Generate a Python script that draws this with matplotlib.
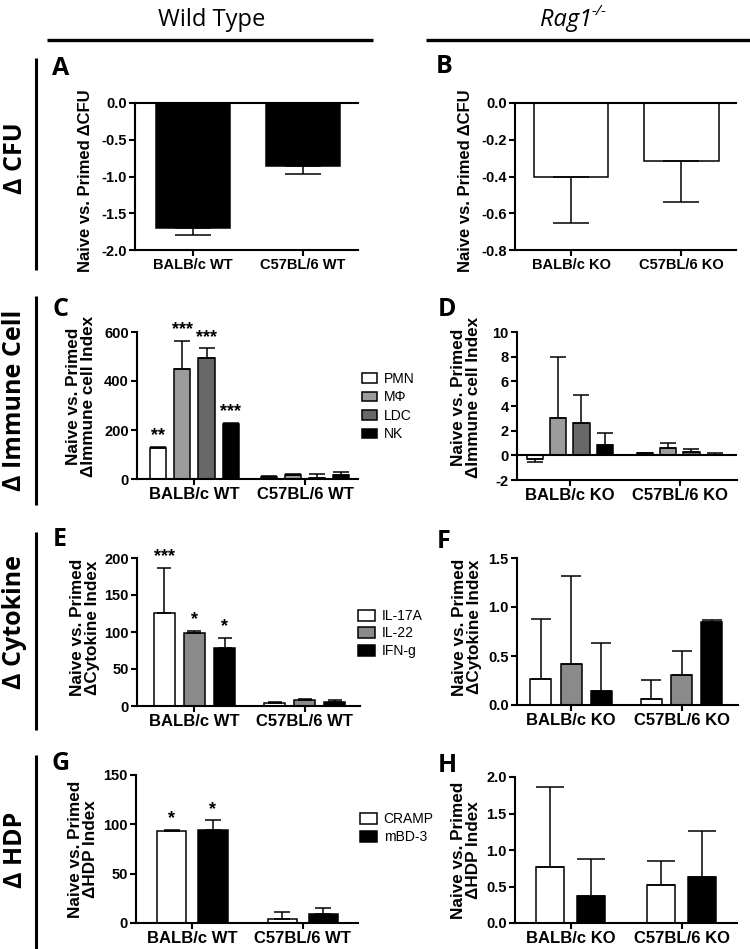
import numpy as np
import matplotlib
matplotlib.use('Agg')
import matplotlib.pyplot as plt

W, H = 750, 949

groups_wt = ['BALB/c WT', 'C57BL/6 WT']
groups_ko = ['BALB/c KO', 'C57BL/6 KO']

# A / B : delta CFU
cfu_wt = [-1.70, -0.855]
cfu_wt_err = [0.10, 0.11]
cfu_ko = [-0.40, -0.315]
cfu_ko_err = [0.255, 0.225]

# C / D : immune cells  (one row per cell type, one column per strain)
cells = ['PMN', 'MΦ', 'LDC', 'NK']
cell_colors = ['white', '#9c9c9c', '#686868', 'black']
cell_wt = [[128, 8], [448, 17], [495, 5], [224, 17]]
cell_wt_err = [[2, 6], [116, 2], [38, 15], [5, 13]]
cell_wt_stars = ['**', '***', '***', '***']
cell_ko = [[-0.30, 0.15], [3.06, 0.62], [2.62, 0.30], [0.81, 0.03]]
cell_ko_err = [[0.27, 0.03], [4.9, 0.38], [2.3, 0.2], [1.0, 0.15]]

# E / F : cytokines
cytokines = ['IL-17A', 'IL-22', 'IFN-g']
cyto_colors = ['white', '#8a8a8a', 'black']
cyto_wt = [[126, 4], [99, 8], [78, 5]]
cyto_wt_err = [[61, 2], [3, 1], [14, 3]]
cyto_wt_stars = ['***', '*', '*']
cyto_ko = [[0.27, 0.064], [0.414, 0.305], [0.143, 0.842]]
cyto_ko_err = [[0.605, 0.19], [0.903, 0.245], [0.492, 0.023]]

# G / H : host defence peptides
hdps = ['CRAMP', 'mBD-3']
hdp_colors = ['white', 'black']
hdp_wt = [[93, 3.7], [94, 9.5]]
hdp_wt_err = [[1, 7.3], [10, 5.5]]
hdp_wt_stars = ['*', '*']
hdp_ko = [[0.767, 0.525], [0.374, 0.63]]
hdp_ko_err = [[1.096, 0.32], [0.506, 0.63]]

plt.rcParams['font.family'] = ['Liberation Sans', 'DejaVu Sans']
plt.rcParams['font.weight'] = 'bold'
plt.rcParams['axes.labelweight'] = 'bold'
plt.rcParams['axes.unicode_minus'] = False

fig = plt.figure(figsize=(W / 100, H / 100), dpi=100)

# background axes in pixel coords for headers / row labels
bg = fig.add_axes([0, 0, 1, 1])
bg.set_xlim(0, W)
bg.set_ylim(H, 0)
bg.axis('off')

cal = ['Open Sans', 'DejaVu Sans']
bg.text(212, 20, 'Wild Type', ha='center', va='center', fontsize=17, family=cal, weight='normal')
rag = bg.text(592, 20, 'Rag1', ha='right', va='center', fontsize=17, family=cal, weight='normal', style='italic')
bg.annotate('-/-', xy=(1.0, 0.85), xycoords=rag, ha='left', va='center', fontsize=11,
            family=cal, weight='normal', style='italic')
bg.plot([47, 373], [40, 40], color='black', lw=2.4, solid_capstyle='butt')
bg.plot([426, 750], [40, 40], color='black', lw=2.4, solid_capstyle='butt')

rows = [('Δ CFU', 58, 270, 158), ('Δ Immune Cell', 296, 505, 400),
        ('Δ Cytokine', 532, 730, 622), ('Δ HDP', 755, 949, 850)]
for txt, y0, y1, yc in rows:
    bg.plot([36, 36], [y0, y1], color='black', lw=2.2, solid_capstyle='butt')
    bg.text(15, yc, txt, rotation=90, ha='center', va='center', fontsize=18, family=cal, weight='bold')

letters = [('A', 61, 68), ('B', 444, 66), ('C', 60, 309), ('D', 447, 310),
           ('E', 60, 540), ('F', 444, 541), ('G', 61, 764), ('H', 447, 766)]
for t, x, y in letters:
    bg.text(x, y, t, ha='center', va='center', fontsize=18, family=cal, weight='bold')


def px_axes(x0, x1, y0, y1):
    return fig.add_axes([x0 / W, 1 - y1 / H, (x1 - x0) / W, (y1 - y0) / H])


def style(ax, ylim, yticks, fmt, groups, xlim, xfs, yfs):
    for s in ['top', 'right']:
        ax.spines[s].set_visible(False)
    for s in ['left', 'bottom']:
        ax.spines[s].set_linewidth(1.5)
    ax.set_xlim(xlim)
    ax.set_ylim(ylim)
    ax.set_yticks(yticks)
    ax.set_yticklabels([fmt.format(v) for v in yticks], fontsize=yfs, fontweight='bold')
    ax.set_xticks([0, 1])
    ax.set_xticklabels(groups, fontsize=xfs, fontweight='bold')
    ax.tick_params(direction='out', length=4, width=1.5, pad=2)
    ax.patch.set_alpha(0)


def ylabel(ax, text, fs, xpos, ypos=0.5):
    ax.set_ylabel(text, fontsize=fs, fontweight='bold', va='center', linespacing=1.0)
    ax.yaxis.set_label_coords(xpos, ypos)


def errs(vals, err):
    lo = [e if v < 0 else 0 for v, e in zip(vals, err)]
    hi = [0 if v < 0 else e for v, e in zip(vals, err)]
    return [lo, hi]


def grouped(ax, means, errors, colors, spacing, width, cap, stars=None):
    n = len(means)
    handles = []
    for i in range(n):
        x = np.arange(2) + (i - (n - 1) / 2) * spacing
        b = ax.bar(x, means[i], width, color=colors[i], edgecolor='black', linewidth=1.1, zorder=2)
        handles.append(b)
        ax.errorbar(x, means[i], yerr=errs(means[i], errors[i]), fmt='none', ecolor='black',
                    elinewidth=1.1, capsize=cap, capthick=1.1, zorder=3)
        if stars:
            ax.annotate(stars[i], (x[0], means[i][0] + errors[i][0]), xytext=(0, 2),
                        textcoords='offset points', ha='center', va='bottom',
                        fontsize=13, fontweight='bold')
    return handles


def legend(ax, handles, labels, x, y, hl, hh, ls):
    ax.legend(handles, labels, loc='upper left', bbox_to_anchor=(x / W, 1 - y / H),
              bbox_transform=fig.transFigure, frameon=False, prop={'weight': 'normal', 'size': 10},
              handlelength=hl, handleheight=hh, labelspacing=ls, handletextpad=0.5,
              borderpad=0, borderaxespad=0)


# A
ax = px_axes(135, 358, 103, 250)
ax.bar([0, 1], cfu_wt, 0.673, color='black', edgecolor='black', linewidth=1.1, zorder=2)
ax.errorbar([0, 1], cfu_wt, yerr=errs(cfu_wt, cfu_wt_err), fmt='none', ecolor='black',
            elinewidth=1.1, capsize=13, capthick=1.1, zorder=3)
style(ax, (-2, 0), [0, -0.5, -1.0, -1.5, -2.0], '{:.1f}', groups_wt, (-0.527, 1.5), 10.5, 10.5)
ax.axhline(0, color='black', lw=1.5, clip_on=False)
ylabel(ax, 'Naive vs. Primed ΔCFU', 12, -0.22, 0.47)

# B
ax = px_axes(515, 736, 103, 250)
ax.bar([0, 1], cfu_ko, 0.673, color='white', edgecolor='black', linewidth=1.1, zorder=2)
ax.errorbar([0, 1], cfu_ko, yerr=errs(cfu_ko, cfu_ko_err), fmt='none', ecolor='black',
            elinewidth=1.1, capsize=13, capthick=1.1, zorder=3)
style(ax, (-0.8, 0), [0, -0.2, -0.4, -0.6, -0.8], '{:.1f}', groups_ko, (-0.51, 1.495), 10.5, 10.5)
ax.axhline(0, color='black', lw=1.5, clip_on=False)
ylabel(ax, 'Naive vs. Primed ΔCFU', 12, -0.226, 0.47)

# C
ax = px_axes(137, 358, 332, 479)
h = grouped(ax, cell_wt, cell_wt_err, cell_colors, 0.218, 0.145, 5.5, cell_wt_stars)
style(ax, (0, 600), [0, 200, 400, 600], '{:d}', groups_wt, (-0.52, 1.48), 12, 10.5)
ylabel(ax, 'Naive vs. Primed\nΔImmune cell Index', 12.3, -0.253, 0.56)
legend(ax, h, cells, 362, 372, 1.1, 0.7, 0.32)

# D
ax = px_axes(517, 737, 332, 480)
grouped(ax, cell_ko, cell_ko_err, cell_colors, 0.212, 0.15, 6)
style(ax, (-2, 10), [-2, 0, 2, 4, 6, 8, 10], '{:d}', groups_ko, (-0.48, 1.52), 12, 10.5)
ax.axhline(0, color='black', lw=1.5)
ylabel(ax, 'Naive vs. Primed\nΔImmune cell Index', 12.3, -0.232, 0.56)

# E
ax = px_axes(137, 360, 558, 706)
h = grouped(ax, cyto_wt, cyto_wt_err, cyto_colors, 0.273, 0.19, 5, cyto_wt_stars)
style(ax, (0, 200), [0, 50, 100, 150, 200], '{:d}', groups_wt, (-0.52, 1.5), 12, 10.5)
ylabel(ax, 'Naive vs. Primed\nΔCytokine Index', 12.3, -0.233, 0.53)
legend(ax, h, cytokines, 358, 609, 1.2, 0.85, 0.25)

# F
ax = px_axes(517, 738, 558, 705)
grouped(ax, cyto_ko, cyto_ko_err, cyto_colors, 0.273, 0.19, 7)
style(ax, (0, 1.5), [0, 0.5, 1.0, 1.5], '{:.1f}', groups_ko, (-0.49, 1.51), 12, 10.5)
ylabel(ax, 'Naive vs. Primed\nΔCytokine Index', 12.3, -0.226, 0.53)

# G
ax = px_axes(136, 358, 775, 923)
h = grouped(ax, hdp_wt, hdp_wt_err, hdp_colors, 0.373, 0.264, 6, hdp_wt_stars)
style(ax, (0, 150), [0, 50, 100, 150], '{:d}', groups_wt, (-0.51, 1.5), 12, 10.5)
ylabel(ax, 'Naive vs. Primed\nΔHDP Index', 12.3, -0.239)
legend(ax, h, hdps, 360, 812, 1.2, 0.85, 0.3)

# H
ax = px_axes(515, 737, 777, 923)
grouped(ax, hdp_ko, hdp_ko_err, hdp_colors, 0.364, 0.255, 10)
style(ax, (0, 2.0), [0, 0.5, 1.0, 1.5, 2.0], '{:.1f}', groups_ko, (-0.5, 1.5), 12, 10.5)
ylabel(ax, 'Naive vs. Primed\nΔHDP Index', 12.3, -0.22)

fig.savefig('out.png', dpi=100)
